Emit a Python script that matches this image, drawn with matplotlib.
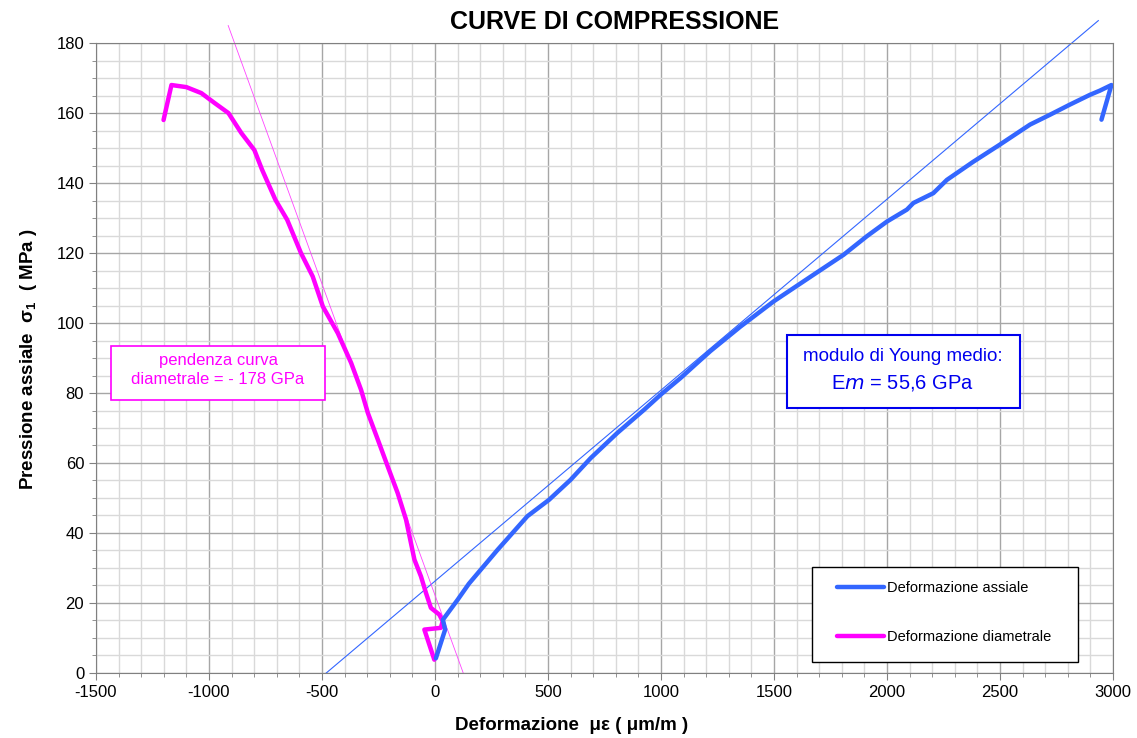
import numpy as np
import matplotlib
matplotlib.use('Agg')
import matplotlib.pyplot as plt
from matplotlib.patches import Rectangle
from matplotlib.ticker import MultipleLocator

plt.rcParams['font.family'] = ['Liberation Sans', 'DejaVu Sans']
plt.rcParams['mathtext.default'] = 'regular'
plt.rcParams['axes.unicode_minus'] = False

# Deformazione assiale (blu)
eps_ax = [4, 45, 35, 100, 150, 277, 409, 505, 600, 689, 807, 925, 1000, 1087, 1150,
          1219, 1352, 1499, 1675, 1808, 1911, 2000, 2088, 2117, 2205, 2265, 2380,
          2500, 2633, 2721, 2809, 2898, 2942, 2993, 2949]
sig_ax = [4.2, 12.4, 15.2, 20.9, 25.5, 35.2, 44.8, 49.5, 55.2, 61.4, 68.6, 75.2, 79.6,
          84.3, 88.0, 92.0, 99.0, 106.2, 113.8, 119.5, 124.8, 129.0, 132.4, 134.3,
          137.1, 140.9, 146.0, 151.0, 156.7, 159.5, 162.4, 165.2, 166.4, 168.0, 158.1]

# Deformazione diametrale (magenta)
eps_dia = [-3, -47, 26, 34, 19, -18, -40, -62, -91, -128, -165, -209, -253, -297, -327,
           -371, -430, -496, -541, -593, -654, -706, -765, -799, -857, -914, -976,
           -1034, -1100, -1166, -1201]
sig_dia = [3.8, 12.4, 12.9, 14.8, 16.7, 18.6, 22.9, 27.6, 32.4, 43.8, 51.4, 59.0, 66.7,
           74.3, 80.9, 88.6, 97.1, 104.7, 113.3, 120.0, 129.5, 135.2, 143.8, 149.4,
           154.3, 160.0, 162.9, 165.7, 167.4, 168.0, 158.0]

# rette di interpolazione
fit_ax_x = [-481, 2935]
fit_ax_y = [0, 186.4]
fit_dia_x = [-915, 125]
fit_dia_y = [185, 0]

blu = '#3366FF'
mag = '#FF00FF'

fig = plt.figure(figsize=(11.37, 7.38), dpi=100)
ax = fig.add_axes([0.0844, 0.0881, 0.8945, 0.8536])

ax.set_xlim(-1500, 3000)
ax.set_ylim(0, 180)
ax.xaxis.set_major_locator(MultipleLocator(500))
ax.xaxis.set_minor_locator(MultipleLocator(100))
ax.yaxis.set_major_locator(MultipleLocator(20))
ax.yaxis.set_minor_locator(MultipleLocator(5))
ax.grid(which='minor', color='#d9d9d9', lw=1.0)
ax.grid(which='major', color='#a6a6a6', lw=1.0)
ax.set_axisbelow(True)
for s in ax.spines.values():
    s.set_color('#808080')
ax.tick_params(which='both', direction='out', color='#808080', labelsize=12)
ax.tick_params(which='major', length=5)
ax.tick_params(which='minor', length=3)

ax.plot(fit_ax_x, fit_ax_y, color=blu, lw=0.8, clip_on=False)
ax.plot(fit_dia_x, fit_dia_y, color='#FF44FF', lw=0.6, clip_on=False)
l2, = ax.plot(eps_dia, sig_dia, color=mag, lw=3.2, solid_joinstyle='round',
              solid_capstyle='round', label='Deformazione diametrale')
l1, = ax.plot(eps_ax, sig_ax, color=blu, lw=3.2, solid_joinstyle='round',
              solid_capstyle='round', label='Deformazione assiale')

# legenda con cornice separata
ax.add_patch(Rectangle((0.704, 0.0175), 0.2616, 0.151, transform=ax.transAxes,
                       facecolor='white', edgecolor='black', lw=1.0, zorder=5))
leg = ax.legend(handles=[l1, l2], loc='upper left', bbox_to_anchor=(0.7286, 0.146),
                borderaxespad=0, borderpad=0, frameon=False, fontsize=10.5,
                handlelength=3.2, handletextpad=0.2, labelspacing=2.4)
leg.set_zorder(6)

# riquadro magenta
ax.add_patch(Rectangle((0.0147, 0.4333), 0.2104, 0.0857, transform=ax.transAxes,
                       facecolor='white', edgecolor=mag, lw=1.2, zorder=5))
ax.text(0.12, 0.481, 'pendenza curva\ndiametrale = - 178 GPa', transform=ax.transAxes,
        ha='center', va='center', color=mag, fontsize=12, linespacing=1.3, zorder=6)

# riquadro blu
ax.add_patch(Rectangle((0.6795, 0.4206), 0.2291, 0.1159, transform=ax.transAxes,
                       facecolor='white', edgecolor='#0000EE', lw=1.5, zorder=5))
ax.text(0.7935, 0.503, 'modulo di Young medio:', transform=ax.transAxes,
        ha='center', va='center', color='#0000EE', fontsize=13.5, zorder=6)
ax.text(0.7935, 0.460, r'E$\mathit{m}$ = 55,6 GPa', transform=ax.transAxes,
        ha='center', va='center', color='#0000EE', fontsize=14.5, zorder=6)

fig.text(615 / 1137, 1 - 22 / 738, 'CURVE DI COMPRESSIONE', ha='center', va='center',
         fontsize=18, fontweight='bold')
ax.set_xlabel('Deformazione  με ( μm/m )', fontsize=13.5, fontweight='bold')
ax.xaxis.set_label_coords((572 - 96) / 1017, -0.07)
ax.set_ylabel(r'Pressione assiale  σ$_1$  ( MPa )', fontsize=13.5, fontweight='bold')
ax.yaxis.set_label_coords(-0.056, (673 - 359) / 630)

fig.savefig('out.png', dpi=100)
